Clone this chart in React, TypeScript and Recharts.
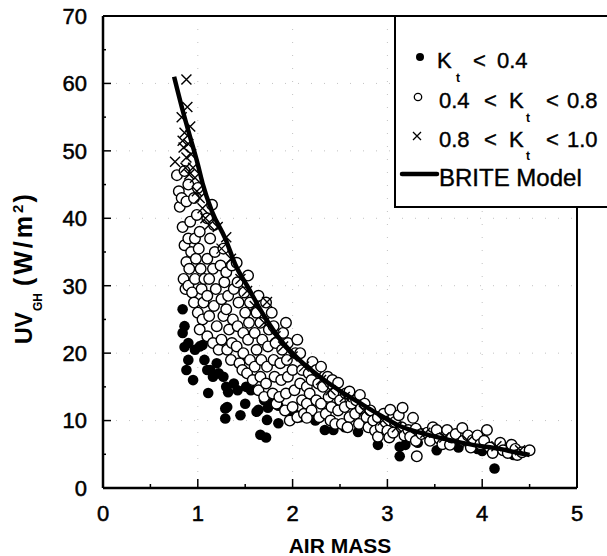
import { CartesianGrid, ReferenceLine, Scatter, ScatterChart, XAxis, YAxis } from "recharts";

const xTicks = [0, 0.5, 1, 1.5, 2, 2.5, 3, 3.5, 4, 4.5, 5];
const yTicks = [0, 5, 10, 15, 20, 25, 30, 35, 40, 45, 50, 55, 60, 65, 70];

// Kt < 0.4 (filled dots)
const lowKt: [number, number][] = [
  [0.84, 26.5], [0.86, 24], [0.84, 23], [0.86, 20.9], [0.9, 21.5], [0.9, 19], [0.88, 17.5],
  [0.95, 16], [0.97, 20.5], [1.02, 21], [1.05, 21.2], [1.07, 19], [1.1, 17.5], [1.13, 17.5],
  [1.11, 14.1], [1.16, 16.5], [1.2, 18.5], [1.22, 17], [1.27, 16.5], [1.3, 15], [1.32, 14.2],
  [1.31, 12], [1.29, 10.3], [1.29, 11.8], [1.38, 15.5], [1.42, 14.5], [1.45, 10.8], [1.5, 12.5],
  [1.51, 15], [1.56, 14.5], [1.62, 11.3], [1.64, 11.6], [1.66, 7.9], [1.7, 13], [1.73, 10.1],
  [1.74, 11.9], [1.72, 7.5], [1.78, 12.5], [1.85, 9.6], [1.85, 12.2], [1.95, 11.5], [2.02, 11],
  [2.08, 10.5], [2.24, 10], [2.34, 8.6], [2.43, 8.6], [2.55, 9], [2.69, 8.3], [2.9, 6.4],
  [3.13, 4.7], [3.19, 6.4], [3.32, 6.7], [3.13, 6.1], [3.52, 5.6], [3.75, 6], [3.95, 5.8],
  [4.13, 2.9], [4.33, 4.9], [4.0, 5.5],
];

// 0.4 < Kt < 0.8 (open circles)
const midKt: [number, number][] = [
  [0.78, 46.4], [0.8, 44], [0.81, 41.7], [0.84, 38.7], [0.86, 36], [0.88, 33.5], [0.85, 31],
  [0.87, 29.5], [0.9, 30], [0.83, 43], [0.86, 47], [0.88, 42.5], [0.9, 45], [0.92, 39.5],
  [0.9, 37], [0.93, 35], [0.91, 32.5], [0.94, 29], [0.96, 27.5],
  [0.97, 31], [0.98, 34], [0.97, 37], [0.99, 40.5], [0.96, 43], [1.0, 44.5], [1.02, 38],
  [1.01, 35.5], [1.03, 32.5], [1.04, 29.5], [1.0, 26], [1.05, 25], [1.02, 23.5], [1.06, 27.5],
  [1.07, 31],
  [1.1, 22.5], [1.12, 25.5], [1.1, 28.5], [1.12, 31], [1.1, 34], [1.13, 37], [1.1, 40],
  [1.15, 42], [1.17, 39], [1.18, 35], [1.16, 32.5], [1.19, 29.5], [1.17, 27], [1.2, 24],
  [1.16, 21.5], [1.22, 20.5],
  [1.25, 22], [1.27, 25.5], [1.25, 28], [1.28, 30.5], [1.24, 33], [1.27, 35.5], [1.3, 32],
  [1.32, 28.5], [1.3, 26.5], [1.33, 23.5], [1.31, 20.5], [1.35, 19], [1.36, 21.5], [1.37, 25],
  [1.38, 29.5], [1.36, 33],
  [1.41, 33.4], [1.42, 30.5], [1.43, 27.5], [1.42, 24], [1.41, 21], [1.44, 18.5], [1.47, 17.5],
  [1.48, 20], [1.48, 23], [1.5, 26], [1.49, 29], [1.53, 31.5], [1.55, 27.5], [1.54, 24.5],
  [1.53, 22], [1.55, 19], [1.52, 17],
  [1.58, 16], [1.6, 18], [1.62, 20.5], [1.6, 23], [1.62, 26], [1.64, 28.5], [1.66, 24.5],
  [1.68, 22], [1.67, 19], [1.66, 16.5], [1.64, 14.5], [1.7, 13.5], [1.72, 15.5], [1.73, 18],
  [1.74, 21], [1.75, 23.5], [1.72, 27.5],
  [1.78, 26], [1.8, 24], [1.82, 21.5], [1.8, 19], [1.81, 16.5], [1.79, 14], [1.83, 12.5],
  [1.86, 13.5], [1.88, 16], [1.87, 18.5], [1.89, 20.5], [1.9, 23], [1.93, 24.5], [1.95, 21.5],
  [1.94, 19], [1.95, 16.5], [1.93, 14], [1.92, 11.5], [1.97, 10],
  [2.0, 12], [2.02, 14.5], [2.0, 17.5], [2.03, 20], [2.05, 22], [2.08, 20], [2.1, 17.5],
  [2.08, 15.5], [2.1, 13], [2.05, 10.5], [2.12, 11], [2.15, 12.5], [2.15, 15], [2.17, 17],
  [2.21, 18.7], [2.2, 16], [2.18, 14], [2.2, 11.5], [2.15, 10.4],
  [2.25, 13], [2.27, 15.5], [2.25, 17.5], [2.3, 18], [2.32, 15], [2.3, 12.5], [2.28, 10.5],
  [2.35, 11], [2.38, 13.5], [2.37, 16.5], [2.42, 16], [2.43, 14], [2.41, 12], [2.4, 10],
  [2.45, 9.5],
  [2.48, 15.6], [2.5, 13], [2.48, 11.5], [2.52, 9.5], [2.55, 12], [2.56, 14], [2.6, 14.3],
  [2.62, 12.5], [2.6, 10.5], [2.58, 9], [2.66, 11], [2.67, 13], [2.71, 13.8], [2.7, 9.5],
  [2.72, 11.8],
  [2.76, 12.5], [2.78, 10.5], [2.8, 9], [2.82, 11.5], [2.85, 10], [2.87, 8.5], [2.9, 7.6],
  [2.9, 10.5], [2.93, 9], [2.96, 11], [2.98, 9.8], [3.0, 8.5], [3.03, 11.6], [3.02, 7.5],
  [3.06, 8.2], [3.08, 9.8], [3.12, 10.8], [3.16, 11.9], [3.15, 9], [3.18, 7.8], [3.22, 8.6],
  [3.24, 7.6], [3.27, 10.4], [3.3, 8.8], [3.31, 4.7], [3.3, 7],
  [3.36, 8], [3.42, 8.2], [3.45, 7], [3.48, 9], [3.52, 8.6], [3.55, 7.3], [3.58, 6.5],
  [3.63, 8.6], [3.66, 6.4], [3.68, 7.5], [3.72, 8],
  [3.79, 8.9], [3.8, 7], [3.85, 7.8], [3.88, 6], [3.9, 7.1], [3.95, 7.8], [3.98, 6.5],
  [4.02, 7], [4.05, 8.6], [4.08, 6], [4.11, 5.2],
  [4.19, 6.7], [4.22, 5.6], [4.27, 5.2], [4.31, 6.4], [4.35, 5.8], [4.37, 4.9], [4.42, 5.3],
  [4.5, 5.6],
];

// 0.8 < Kt < 1.0 (crosses)
const highKt: [number, number][] = [
  [0.88, 60.6], [0.89, 56.5], [0.83, 55], [0.76, 48.4], [0.86, 52.7], [0.92, 53.6], [0.85, 50.5],
  [0.9, 51], [0.88, 49], [0.93, 49.5], [0.95, 47.5], [0.87, 47.5], [0.84, 51.5], [0.91, 46.5],
  [0.97, 46], [0.99, 44], [1.02, 43], [1.05, 41.5], [1.08, 40], [1.12, 39], [1.21, 38.7],
  [1.3, 37.2], [1.25, 35.5], [1.35, 34], [1.45, 31], [1.52, 29.2], [1.6, 27], [1.73, 27.6],
  [1.7, 24.5], [1.82, 22.5], [1.9, 21], [2.0, 19.5], [2.12, 18], [2.3, 16], [2.4, 14.5],
  [2.55, 13.5], [2.75, 11.5], [2.95, 10], [3.1, 9], [3.4, 8.2], [3.6, 7.5], [3.85, 7],
  [4.15, 6.2], [4.4, 5.6],
];

// BRITE model curve
const briteModel: [number, number][] = [
  [0.75, 61], [0.85, 55.5], [0.92, 52], [1.0, 48], [1.05, 45.2], [1.15, 41], [1.29, 37],
  [1.4, 33], [1.52, 30], [1.7, 25.5], [1.87, 22], [2.08, 18.9], [2.26, 16.8], [2.5, 14.4],
  [2.71, 12.6], [2.9, 11], [3.13, 9.2], [3.4, 8], [3.66, 7.1], [3.9, 6.4], [4.19, 5.8],
  [4.35, 5.3], [4.5, 4.9],
];

const toPoints = (rows: [number, number][]) => rows.map(([x, y]) => ({ x, y }));

const FONT = "Arial, 'Liberation Sans', Helvetica, sans-serif";

function YTick({ x, y, payload }: any) {
  const v = payload.value;
  const major = v % 10 === 0;
  const ax = x + 16;
  return (
    <g>
      <line x1={ax} x2={ax + (major ? 8 : 3)} y1={y} y2={y} stroke="#000" strokeWidth={1.5} />
      {major && (
        <text x={x} y={y} dy="0.36em" textAnchor="end" fontSize={22} fontFamily={FONT}
          fill="#000" stroke="#000" strokeWidth={0.5}>
          {v}
        </text>
      )}
    </g>
  );
}

function XTick({ x, y, payload }: any) {
  const v = payload.value;
  const major = Number.isInteger(v);
  const ay = y - 17;
  return (
    <g>
      <line x1={x} x2={x} y1={ay} y2={ay - (major ? 9 : 4)} stroke="#000" strokeWidth={1.5} />
      {major && (
        <text x={x} y={y} dy="0.71em" textAnchor="middle" fontSize={22} fontFamily={FONT}
          fill="#000" stroke="#000" strokeWidth={0.5}>
          {v}
        </text>
      )}
    </g>
  );
}

const FilledDot = ({ cx, cy }: any) => <circle cx={cx} cy={cy} r={5.3} fill="#000" />;
const OpenDot = ({ cx, cy }: any) => (
  <circle cx={cx} cy={cy} r={5.3} fill="#fff" stroke="#000" strokeWidth={1.4} />
);
const Cross = ({ cx, cy }: any) => (
  <path d={`M${cx - 5},${cy - 5}L${cx + 5},${cy + 5}M${cx - 5},${cy + 5}L${cx + 5},${cy - 5}`}
    stroke="#000" strokeWidth={1.4} />
);
const NoShape = () => <g />;

function YLabel({ viewBox }: any) {
  const bx = viewBox.x - 11;
  const sy = viewBox.y + viewBox.height / 2 + 92;
  return (
    <text transform={`translate(${bx},${sy}) rotate(-90)`} fontFamily={FONT} fontWeight="bold"
      fontSize={23} fill="#000">
      <tspan>UV</tspan>
      <tspan fontSize={12} dy={10} dx={1}>GH</tspan>
      <tspan dy={-10} dx={7} fontSize={25} letterSpacing={3}>(W/m</tspan>
      <tspan fontSize={15} dy={-9}>2</tspan>
      <tspan dy={9} dx={2} fontSize={25}>)</tspan>
    </text>
  );
}

function Overlay() {
  const txt = { fontFamily: FONT, fontSize: 22, fill: "#000", stroke: "#000", strokeWidth: 0.4 };
  const sub = { fontFamily: FONT, fontSize: 12, fill: "#000", fontWeight: "bold" as const };
  return (
    <svg width={607} height={556} style={{ position: "absolute", left: 0, top: 0, pointerEvents: "none" }}>
      <text x={340} y={553} textAnchor="middle" fontFamily={FONT} fontSize={21} fontWeight="bold"
        fill="#000">AIR MASS</text>

      <path d="M650,16H395V207H650" fill="#fff" stroke="#000" strokeWidth={2} />
      <circle cx={420} cy={57} r={4} fill="#000" />
      <text x={437} y={68} {...txt}>K</text>
      <text x={456} y={82} {...sub}>t</text>
      <text x={473} y={68} {...txt}>&lt;</text>
      <text x={497} y={68} {...txt}>0.4</text>

      <circle cx={418} cy={97} r={3.7} fill="#fff" stroke="#000" strokeWidth={1.3} />
      <text x={439} y={108} {...txt}>0.4</text>
      <text x={484} y={108} {...txt}>&lt;</text>
      <text x={509} y={108} {...txt}>K</text>
      <text x={526} y={122} {...sub}>t</text>
      <text x={546} y={108} {...txt}>&lt;</text>
      <text x={567} y={108} {...txt}>0.8</text>

      <path d="M413,132L421,140M413,140L421,132" stroke="#000" strokeWidth={1.3} />
      <text x={439} y={147} {...txt}>0.8</text>
      <text x={484} y={147} {...txt}>&lt;</text>
      <text x={509} y={147} {...txt}>K</text>
      <text x={526} y={160} {...sub}>t</text>
      <text x={546} y={147} {...txt}>&lt;</text>
      <text x={567} y={147} {...txt}>1.0</text>

      <line x1={402} x2={437} y1={174} y2={174} stroke="#000" strokeWidth={4.5} strokeLinecap="round" />
      <text x={439} y={186} {...txt} fontSize={24}>BRITE Model</text>
    </svg>
  );
}

export default function App() {
  return (
    <div style={{ position: "fixed", left: 0, top: 0, width: 607, height: 556, overflow: "hidden", background: "#fff" }}>
      <ScatterChart width={607} height={556} margin={{ top: 16, right: 30, bottom: 28, left: 43 }}>
        <CartesianGrid stroke="#999" strokeDasharray="1 12" strokeOpacity={0.6}
          horizontalValues={[10, 20, 30, 40, 50, 60]} verticalValues={[1, 2, 3, 4]} />
        <XAxis dataKey="x" type="number" domain={[0, 5]} ticks={xTicks} interval={0} height={40}
          tickSize={0} tickMargin={17} tickLine={false} tick={<XTick />}
          axisLine={{ stroke: "#000", strokeWidth: 2.5 }} />
        <YAxis dataKey="y" type="number" domain={[0, 70]} ticks={yTicks} interval={0} width={60}
          tickSize={0} tickMargin={16} tickLine={false} tick={<YTick />}
          axisLine={{ stroke: "#000", strokeWidth: 2.5 }}
          label={<YLabel />} />
        <ReferenceLine y={70} stroke="#000" strokeWidth={2} />
        <ReferenceLine x={5} stroke="#000" strokeWidth={2} />
        <Scatter data={toPoints(lowKt)} shape={<FilledDot />} isAnimationActive={false} />
        <Scatter data={toPoints(midKt)} shape={<OpenDot />} isAnimationActive={false} />
        <Scatter data={toPoints(highKt)} shape={<Cross />} isAnimationActive={false} />
        <Scatter data={toPoints(briteModel)} shape={<NoShape />} line={{ stroke: "#000", strokeWidth: 4.5 }}
          lineJointType="monotoneX" isAnimationActive={false} />
      </ScatterChart>
      <Overlay />
    </div>
  );
}
